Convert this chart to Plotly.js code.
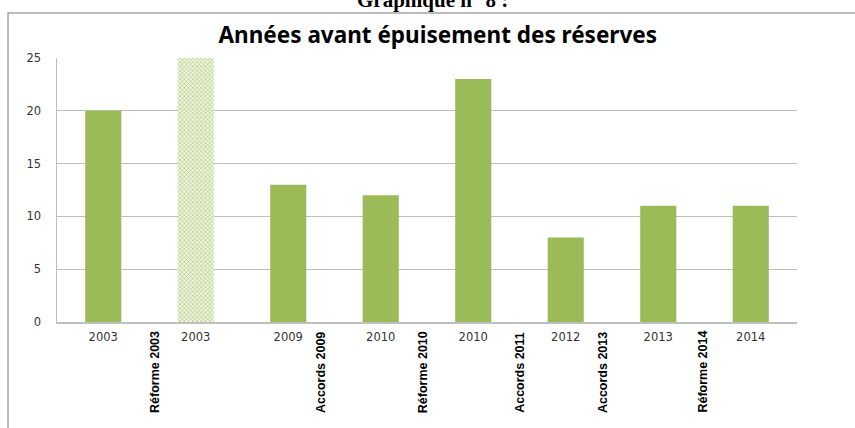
<!DOCTYPE html>
<html>
<head>
<meta charset="utf-8">
<script src="https://cdn.plot.ly/plotly-3.0.1.min.js"></script>
<style>
html,body{margin:0;padding:0;background:#fff;}
#chart{width:855px;height:428px;}
</style>
</head>
<body>
<div id="chart"></div>
<script>
// Data
const yearLabels = ["2003", "2003", "2009", "2010", "2010", "2012", "2013", "2014"];
const yearsBeforeDepletion = [20, 25, 13, 12, 23, 8, 11, 11];
const hatchedBar = [false, true, false, false, false, false, false, false];
const eventLabels = ["Réforme 2003", "Accords 2009", "Réforme 2010", "Accords 2011", "Accords 2013", "Réforme 2014"];
const eventPositions = [0.56, 2.36, 3.46, 4.51, 5.41, 6.48];

const green = "#9BBB59";
const xIdx = yearLabels.map((_, i) => i);

const solidIdx = xIdx.filter(i => !hatchedBar[i]);
const hatchIdx = xIdx.filter(i => hatchedBar[i]);

const solidTrace = {
  type: "bar",
  x: solidIdx,
  y: solidIdx.map(i => yearsBeforeDepletion[i]),
  width: 0.39,
  marker: {color: green, line: {width: 0}},
  hoverinfo: "skip"
};

const hatchTrace = {
  type: "bar",
  x: hatchIdx,
  y: hatchIdx.map(i => yearsBeforeDepletion[i]),
  width: 0.39,
  marker: {
    color: green,
    line: {width: 0},
    pattern: {shape: "x", fgcolor: "#A9C76B", bgcolor: "#EEF4E2", size: 3, solidity: 0.35, fillmode: "replace"}
  },
  hoverinfo: "skip"
};

const annotations = eventLabels.map((t, i) => ({
  text: t,
  x: eventPositions[i],
  xref: "x",
  y: -0.352,
  yref: "paper",
  yanchor: "bottom",
  xanchor: "center",
  textangle: -90,
  showarrow: false,
  font: {family: "Liberation Sans Narrow, Liberation Sans, Arial", size: 12.5, color: "#000", weight: "bold"}
}));

annotations.push({
  text: "<b>Graphique n° 8 :</b>",
  xref: "paper", yref: "paper",
  x: 0.507, y: 1.168, xanchor: "center", yanchor: "bottom",
  showarrow: false,
  font: {family: "Liberation Serif, Times New Roman, serif", size: 21, color: "#000"}
});

const layout = {
  width: 855,
  height: 428,
  margin: {l: 57, r: 58, t: 58, b: 106},
  paper_bgcolor: "#ffffff",
  plot_bgcolor: "#ffffff",
  showlegend: false,
  barmode: "overlay",
  title: {
    text: "<b>Années avant épuisement des réserves</b>",
    x: 0.512, xanchor: "center",
    y: 0.918, yanchor: "middle",
    font: {family: "Noto Sans, Open Sans, sans-serif", size: 22.5, color: "#000"}
  },
  xaxis: {
    range: [-0.5, 7.5],
    tickvals: xIdx,
    ticktext: yearLabels,
    showgrid: false,
    zeroline: false,
    showline: true,
    linecolor: "#BFBFBF",
    linewidth: 1.5,
    ticks: "outside",
    ticklen: 4,
    tickcolor: "rgba(0,0,0,0)",
    tickfont: {family: "DejaVu Sans, sans-serif", size: 11.5, color: "#333333"},
    fixedrange: true
  },
  yaxis: {
    range: [0, 25],
    tickvals: [0, 5, 10, 15, 20, 25],
    showgrid: true,
    gridcolor: "#BFBFBF",
    gridwidth: 1,
    zeroline: false,
    showline: true,
    linecolor: "#BFBFBF",
    linewidth: 1.5,
    ticks: "outside",
    ticklen: 12,
    tickcolor: "rgba(0,0,0,0)",
    tickfont: {family: "DejaVu Sans, sans-serif", size: 11.5, color: "#333333"},
    fixedrange: true
  },
  shapes: [{
    type: "rect",
    xref: "paper", yref: "paper",
    x0: -0.0662, x1: 1.09, y0: -0.45, y1: 1.17,
    line: {color: "#A6A6A6", width: 1.5},
    fillcolor: "rgba(0,0,0,0)",
    layer: "below"
  }],
  annotations: annotations
};

Plotly.newPlot("chart", [solidTrace, hatchTrace], layout, {displayModeBar: false, staticPlot: true});
</script>
</body>
</html>
